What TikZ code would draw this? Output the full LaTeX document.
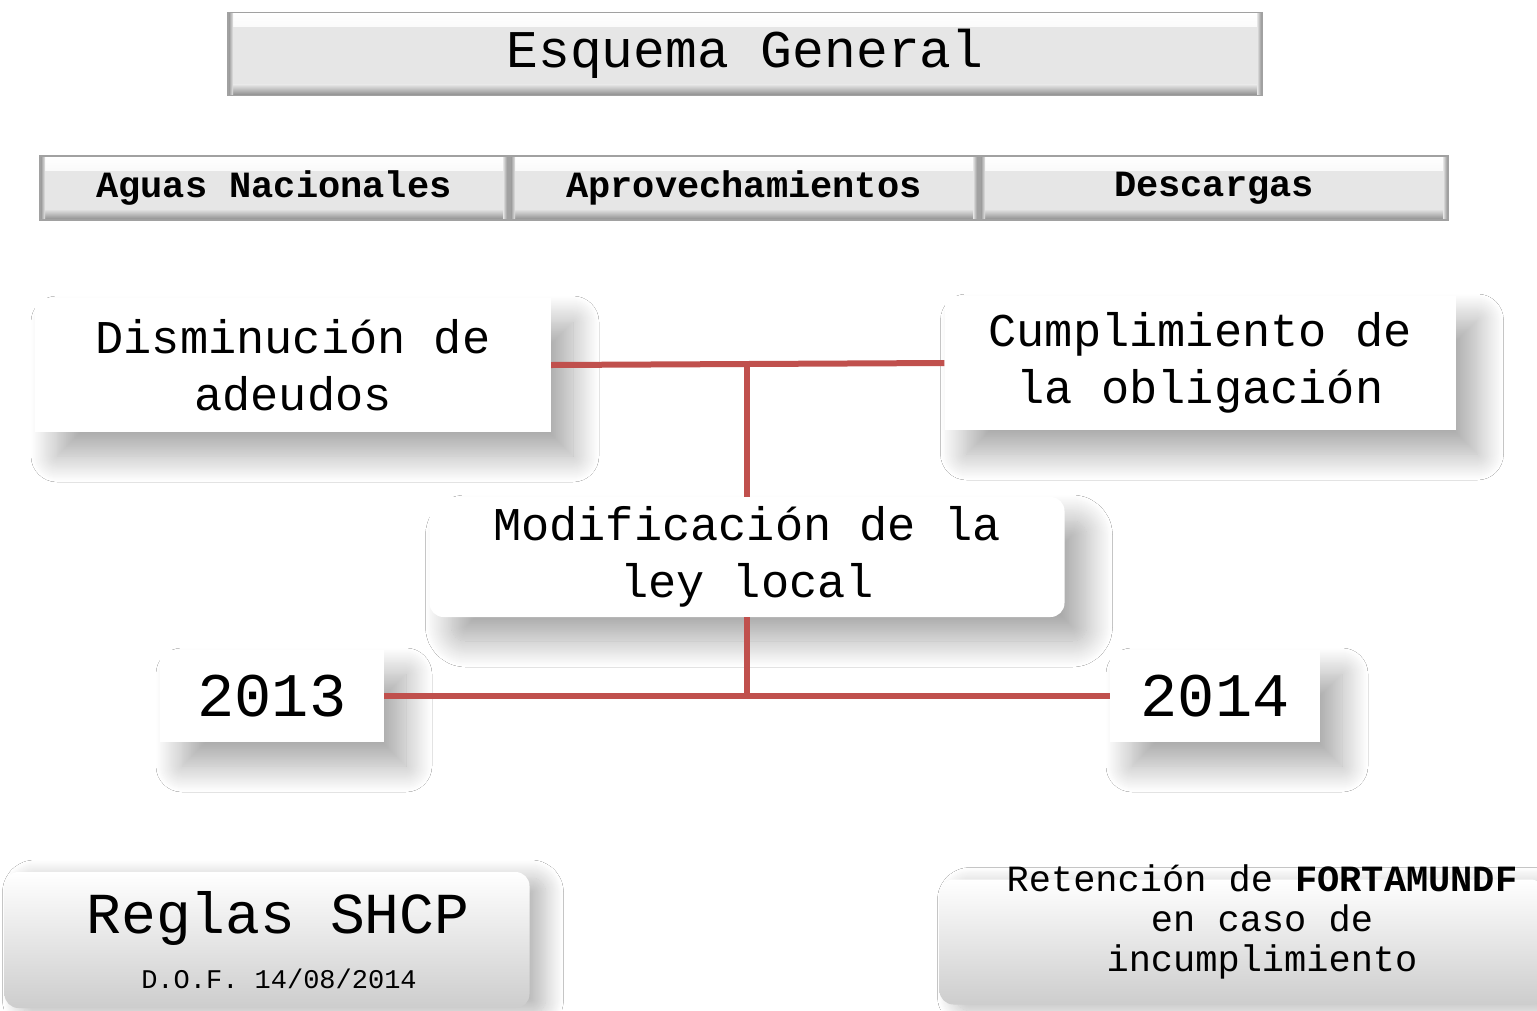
\documentclass[tikz,border=0pt]{standalone}
\usepackage{fontspec}
\setmainfont{Liberation Mono}
\usetikzlibrary{shadows.blur}
\definecolor{linkred}{HTML}{C0504D}
\definecolor{panel}{HTML}{E6E6E6}
\definecolor{rim}{HTML}{8A8A8A}
\definecolor{platebottom}{HTML}{CDCDCD}
\newcommand{\fsz}[2]{\fontsize{#1}{#2}\selectfont}

\begin{document}
\begin{tikzpicture}[x=1pt, y=-1pt,
  bevel/.style={draw=rim!80, line width=1.5pt, fill=panel, inner sep=0pt,
    path picture={
      \shade[top color=white, bottom color=panel] (path picture bounding box.north west) rectangle ([yshift=-14pt]path picture bounding box.north east);
      \shade[top color=panel, bottom color=rim] ([yshift=11pt]path picture bounding box.south west) rectangle (path picture bounding box.south east);
      \shade[left color=rim, right color=panel] (path picture bounding box.north west) rectangle ([xshift=5pt]path picture bounding box.south west);
      \shade[left color=panel, right color=rim] ([xshift=-5pt]path picture bounding box.north east) rectangle (path picture bounding box.south east);
    }},
  card/.style={fill=white, align=center, inner sep=0pt, font=\fsz{47}{57},
    blur shadow={shadow xshift=22pt, shadow yshift=-24pt, shadow blur radius=26pt, shadow blur steps=28, shadow opacity=34}},
  plate/.style={rounded corners=14pt, top color=white, bottom color=platebottom, inner sep=0pt,
    blur shadow={shadow xshift=16pt, shadow yshift=-6pt, shadow blur radius=18pt, shadow blur steps=20, shadow opacity=28}},
  link/.style={draw=linkred, line width=6pt}]

\useasboundingbox[fill=white] (0,0) rectangle (1537,1010);

\node[bevel, minimum width=1034pt, minimum height=83pt, font=\fsz{53}{60}] (title) at (745,54) {Esquema General};

\node[bevel, minimum width=468pt, minimum height=64pt, font=\fsz{37}{40}\bfseries] (aguas) at (274,188) {Aguas Nacionales};
\node[bevel, minimum width=468pt, minimum height=64pt, font=\fsz{37}{40}\bfseries] (aprov) at (744,188) {Aprovechamientos};
\node[bevel, minimum width=468pt, minimum height=64pt, font=\fsz{37}{40}\bfseries] (desc) at (1214,188) {Descargas};

\node[card, minimum width=516pt, minimum height=134pt] (dism) at (293,365) {Disminución de\\ adeudos};
\node[card, minimum width=511pt, minimum height=134pt] (cump) at (1200,363) {Cumplimiento de\\ la obligación};
\node[card, rounded corners=14pt, minimum width=635pt, minimum height=120pt] (modif) at (747,557) {Modificación de la\\ ley local};
\node[card, minimum width=224pt, minimum height=92pt, font=\fsz{62}{70}] (y13) at (272,696) {2013};
\node[card, minimum width=210pt, minimum height=92pt, font=\fsz{62}{70}] (y14) at (1215,696) {2014};

\node[plate, align=center, minimum width=525pt, minimum height=136pt, font=\fsz{27}{30}] (reglas) at (267,940)
  {\hspace*{22pt}\fsz{58}{60}Reglas SHCP\\[23pt] \hspace*{24pt}D.O.F. 14/08/2014};
\node[plate, minimum width=605pt, minimum height=125pt] (reten) at (1242,942) {};
\node[align=center, inner sep=0pt, font=\fsz{37}{40}] (retentxt) at (1262,922) {Retención de \textbf{FORTAMUNDF}\\ en caso de\\ incumplimiento};

\draw[link] (dism.east) -- (cump.west);
\draw[link] (modif.north) -- (modif.north |- dism.east);
\draw[link] (y13.east) -- (y14.west);
\draw[link] (modif.south) -- (modif.south |- y13.east);
\end{tikzpicture}
\end{document}
